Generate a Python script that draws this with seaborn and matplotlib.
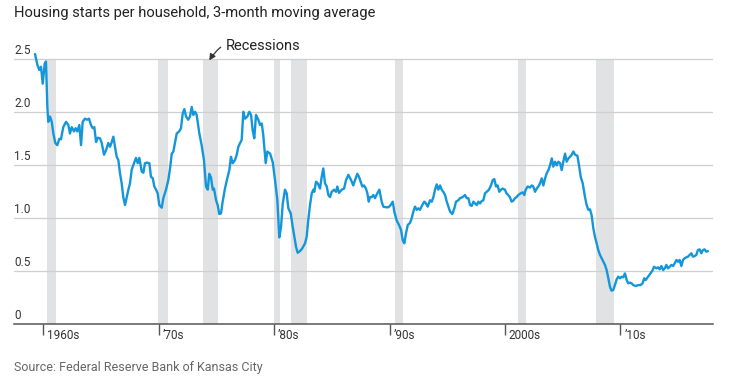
import matplotlib
matplotlib.use("Agg")
import matplotlib.pyplot as plt
import matplotlib.transforms as mtransforms
import seaborn as sns

# Housing starts per household, 3-month moving average
years = [
    1959.28, 1959.48, 1959.65, 1959.80, 1959.95, 1960.12, 1960.23, 1960.35, 1960.43, 1960.58,
    1960.73, 1960.87, 1961.04, 1961.21, 1961.39, 1961.53, 1961.73, 1961.97, 1962.17, 1962.31,
    1962.46, 1962.66, 1962.80, 1962.95, 1963.12, 1963.27, 1963.41, 1963.61, 1963.81, 1963.96,
    1964.13, 1964.28, 1964.42, 1964.57, 1964.71, 1964.91, 1965.06, 1965.26, 1965.43, 1965.63,
    1965.78, 1965.93, 1966.07, 1966.21, 1966.36, 1966.50, 1966.65, 1966.79, 1966.93, 1967.08,
    1967.23, 1967.37, 1967.51, 1967.66, 1967.86, 1968.03, 1968.18, 1968.32, 1968.53, 1968.67,
    1968.81, 1968.96, 1969.19, 1969.33, 1969.48, 1969.62, 1969.77, 1969.91, 1970.05, 1970.26,
    1970.40, 1970.63, 1970.83, 1970.98, 1971.13, 1971.27, 1971.41, 1971.56, 1971.78, 1971.93,
    1972.08, 1972.22, 1972.37, 1972.56, 1972.71, 1972.86, 1973.00, 1973.15, 1973.29, 1973.52,
    1973.72, 1973.92, 1974.10, 1974.25, 1974.38, 1974.53, 1974.68, 1974.79, 1974.97, 1975.11,
    1975.25, 1975.40, 1975.54, 1975.74, 1975.94, 1976.12, 1976.26, 1976.41, 1976.61, 1976.76,
    1976.90, 1977.05, 1977.19, 1977.33, 1977.48, 1977.68, 1977.85, 1978.00, 1978.14, 1978.28,
    1978.43, 1978.63, 1978.78, 1978.93, 1979.06, 1979.27, 1979.41, 1979.65, 1979.88, 1980.08,
    1980.28, 1980.45, 1980.60, 1980.75, 1980.94, 1981.09, 1981.23, 1981.44, 1981.61, 1981.75,
    1981.90, 1982.04, 1982.24, 1982.44, 1982.68, 1982.82, 1982.96, 1983.11, 1983.26, 1983.40,
    1983.48, 1983.63, 1983.78, 1983.98, 1984.12, 1984.26, 1984.41, 1984.56, 1984.70, 1984.84,
    1984.99, 1985.19, 1985.36, 1985.48, 1985.62, 1985.86, 1986.06, 1986.23, 1986.43, 1986.58,
    1986.73, 1986.86, 1987.01, 1987.21, 1987.36, 1987.50, 1987.64, 1987.79, 1987.96, 1988.08,
    1988.20, 1988.31, 1988.46, 1988.60, 1988.74, 1988.94, 1989.12, 1989.32, 1989.46, 1989.70,
    1989.90, 1990.10, 1990.28, 1990.42, 1990.62, 1990.82, 1991.00, 1991.14, 1991.28, 1991.43,
    1991.58, 1991.78, 1991.92, 1992.06, 1992.21, 1992.36, 1992.50, 1992.64, 1992.84, 1993.01,
    1993.16, 1993.31, 1993.51, 1993.66, 1993.80, 1993.94, 1994.09, 1994.23, 1994.38, 1994.52,
    1994.66, 1994.81, 1994.96, 1995.10, 1995.25, 1995.44, 1995.62, 1995.76, 1995.96, 1996.11,
    1996.34, 1996.54, 1996.69, 1996.83, 1996.98, 1997.12, 1997.27, 1997.41, 1997.56, 1997.70,
    1997.84, 1997.99, 1998.13, 1998.27, 1998.42, 1998.62, 1998.79, 1998.94, 1999.08, 1999.23,
    1999.37, 1999.51, 1999.66, 1999.80, 2000.00, 2000.14, 2000.28, 2000.43, 2000.58, 2000.72,
    2000.87, 2001.01, 2001.16, 2001.36, 2001.54, 2001.68, 2001.80, 2001.97, 2002.17, 2002.32,
    2002.46, 2002.61, 2002.75, 2002.90, 2003.04, 2003.19, 2003.33, 2003.48, 2003.62, 2003.77,
    2003.91, 2004.06, 2004.19, 2004.34, 2004.49, 2004.63, 2004.78, 2004.92, 2005.06, 2005.21,
    2005.35, 2005.50, 2005.64, 2005.79, 2005.93, 2006.08, 2006.28, 2006.42, 2006.57, 2006.74,
    2006.94, 2007.08, 2007.23, 2007.37, 2007.51, 2007.66, 2007.80, 2007.95, 2008.09, 2008.24,
    2008.38, 2008.52, 2008.67, 2008.81, 2008.96, 2009.10, 2009.24, 2009.39, 2009.53, 2009.68,
    2009.82, 2009.97, 2010.11, 2010.25, 2010.40, 2010.55, 2010.68, 2010.83, 2010.97, 2011.12,
    2011.35, 2011.55, 2011.75, 2011.93, 2012.07, 2012.20, 2012.41, 2012.61, 2012.78, 2012.92,
    2013.13, 2013.27, 2013.41, 2013.56, 2013.71, 2013.85, 2013.99, 2014.13, 2014.28, 2014.42,
    2014.57, 2014.71, 2014.86, 2015.00, 2015.14, 2015.29, 2015.43, 2015.57, 2015.72, 2015.86,
    2016.00, 2016.15, 2016.29, 2016.44, 2016.58, 2016.72, 2016.87, 2017.02, 2017.16, 2017.30,
    2017.45, 2017.59,
]
starts = [
    2.55, 2.45, 2.40, 2.43, 2.27, 2.46, 2.48, 2.05, 1.91, 1.96,
    1.91, 1.80, 1.71, 1.69, 1.75, 1.745, 1.86, 1.91, 1.88, 1.80,
    1.86, 1.82, 1.85, 1.82, 1.88, 1.69, 1.91, 1.94, 1.93, 1.94,
    1.88, 1.85, 1.86, 1.72, 1.76, 1.755, 1.71, 1.60, 1.64, 1.71,
    1.675, 1.72, 1.77, 1.675, 1.58, 1.55, 1.42, 1.33, 1.20, 1.125,
    1.20, 1.27, 1.33, 1.46, 1.52, 1.57, 1.52, 1.57, 1.44, 1.43,
    1.52, 1.525, 1.52, 1.39, 1.38, 1.30, 1.27, 1.235, 1.125, 1.10,
    1.19, 1.27, 1.36, 1.47, 1.61, 1.63, 1.71, 1.80, 1.82, 1.85,
    1.99, 2.03, 1.96, 1.93, 1.96, 2.05, 1.975, 2.005, 1.975, 1.80,
    1.69, 1.55, 1.30, 1.27, 1.42, 1.385, 1.27, 1.28, 1.17, 1.125,
    1.04, 1.047, 1.157, 1.28, 1.377, 1.455, 1.58, 1.52, 1.55, 1.60,
    1.675, 1.71, 1.74, 2.005, 1.94, 1.96, 2.005, 1.975, 1.83, 1.755,
    1.975, 1.93, 1.88, 1.895, 1.785, 1.52, 1.63, 1.61, 1.53, 1.36,
    1.17, 0.82, 0.92, 1.14, 1.27, 1.235, 1.095, 1.047, 0.92, 0.826,
    0.73, 0.675, 0.69, 0.717, 0.764, 0.826, 0.984, 1.125, 1.235, 1.27,
    1.25, 1.345, 1.33, 1.28, 1.39, 1.47, 1.33, 1.30, 1.22, 1.20,
    1.25, 1.27, 1.25, 1.30, 1.24, 1.27, 1.28, 1.36, 1.41, 1.38,
    1.345, 1.31, 1.36, 1.42, 1.39, 1.345, 1.30, 1.31, 1.28, 1.235,
    1.157, 1.20, 1.20, 1.22, 1.19, 1.235, 1.27, 1.157, 1.11, 1.104,
    1.104, 1.125, 1.157, 1.06, 0.98, 0.937, 0.89, 0.795, 0.764, 0.858,
    0.937, 0.958, 1.00, 1.062, 1.11, 1.08, 1.094, 1.08, 1.125, 1.157,
    1.14, 1.11, 1.17, 1.157, 1.20, 1.27, 1.32, 1.27, 1.31, 1.27,
    1.25, 1.22, 1.157, 1.11, 1.062, 1.04, 1.094, 1.157, 1.17, 1.19,
    1.20, 1.22, 1.19, 1.19, 1.125, 1.116, 1.157, 1.14, 1.125, 1.157,
    1.14, 1.163, 1.17, 1.235, 1.25, 1.27, 1.31, 1.36, 1.37, 1.30,
    1.31, 1.25, 1.27, 1.28, 1.27, 1.235, 1.22, 1.20, 1.157, 1.166,
    1.19, 1.20, 1.22, 1.235, 1.245, 1.22, 1.27, 1.30, 1.29, 1.31,
    1.30, 1.25, 1.28, 1.30, 1.33, 1.377, 1.31, 1.377, 1.425, 1.455,
    1.50, 1.565, 1.487, 1.534, 1.50, 1.534, 1.52, 1.455, 1.534, 1.61,
    1.534, 1.565, 1.58, 1.60, 1.63, 1.60, 1.59, 1.50, 1.39, 1.33,
    1.20, 1.125, 1.08, 1.085, 1.03, 0.906, 0.826, 0.764, 0.70, 0.654,
    0.623, 0.59, 0.56, 0.512, 0.434, 0.355, 0.317, 0.324, 0.37, 0.424,
    0.449, 0.434, 0.449, 0.443, 0.48, 0.418, 0.387, 0.393, 0.387, 0.37,
    0.361, 0.37, 0.37, 0.387, 0.434, 0.418, 0.449, 0.48, 0.506, 0.543,
    0.528, 0.538, 0.519, 0.55, 0.512, 0.528, 0.56, 0.528, 0.543, 0.56,
    0.55, 0.575, 0.607, 0.59, 0.607, 0.55, 0.607, 0.623, 0.632, 0.638,
    0.654, 0.67, 0.638, 0.644, 0.654, 0.70, 0.707, 0.67, 0.70, 0.707,
    0.685, 0.69,
]

# NBER recessions
recession_start = [1960.33, 1969.92, 1973.83, 1980.00, 1981.50, 1990.50, 2001.17, 2007.92]
recession_end = [1961.08, 1970.83, 1975.17, 1980.50, 1982.83, 1991.17, 2001.83, 2009.42]

decade_ticks = [1960, 1970, 1980, 1990, 2000, 2010]
decade_labels = ["1960s", "\u201970s", "\u201980s", "\u201990s", "2000s", "\u201910s"]
y_ticks = [0, 0.5, 1.0, 1.5, 2.0, 2.5]
y_labels = ["0", "0.5", "1.0", "1.5", "2.0", "2.5"]

sns.set_theme(style="white")
plt.rcParams["font.family"] = ["Roboto", "DejaVu Sans"]

W, H = 738, 392
fig = plt.figure(figsize=(W / 100, H / 100), dpi=100)
ax = fig.add_axes([14 / W, (H - 324.3) / H, (713 - 14) / W, (324.3 - 48.7) / H])

ymax = 2.6
ax.set_xlim(1957.46, 2018.03)
ax.set_ylim(0, ymax)

# recession bands
for s, e in zip(recession_start, recession_end):
    ax.axvspan(s, e, ymin=0, ymax=2.5 / ymax, color="#e1e2e4", lw=0, zorder=0)

# gridlines
for v in y_ticks[1:]:
    ax.axhline(v, color="#cfcfcf", lw=0.9, zorder=0.5)

sns.lineplot(x=years, y=starts, ax=ax, estimator=None, color="#1496da", lw=1.7, zorder=3)

# axes styling
for side in ["top", "right", "left"]:
    ax.spines[side].set_visible(False)
ax.spines["bottom"].set_color("#555555")
ax.spines["bottom"].set_linewidth(1.1)
ax.set_yticks([])
ax.set_xticks(decade_ticks)
ax.tick_params(axis="x", length=8, width=1, color="#555555", direction="out",
               labelbottom=False, bottom=True)
ax.set_xlabel("")
ax.set_ylabel("")

# y labels sit above their gridlines at the left edge
ytrans = mtransforms.blended_transform_factory(ax.transAxes, ax.transData)
yoff = mtransforms.ScaledTranslation(0, 2 / 100, fig.dpi_scale_trans)
for v, lab in zip(y_ticks, y_labels):
    ax.text(0, v, lab, transform=ytrans + yoff, ha="left", va="bottom",
            fontsize=8.5, color="#333333")

# decade labels to the right of their ticks
xtrans = mtransforms.blended_transform_factory(ax.transData, ax.transAxes)
xoff = mtransforms.ScaledTranslation(4 / 100, -5 / 100, fig.dpi_scale_trans)
for t, lab in zip(decade_ticks, decade_labels):
    ax.text(t, 0, lab, transform=xtrans + xoff, ha="left", va="top",
            fontsize=8.5, color="#333333")

# recession annotation
ax.annotate("Recessions", xy=(1974.38, 2.49), xytext=(1975.85, 2.63),
            fontsize=10.5, color="#222222", va="center", ha="left",
            annotation_clip=False,
            arrowprops=dict(arrowstyle="-|>,head_length=0.35,head_width=0.18",
                            color="#333333", lw=0.9,
                            connectionstyle="arc3,rad=0.45",
                            shrinkA=2, shrinkB=0))

fig.text(14 / W, 1 - 13 / H, "Housing starts per household, 3-month moving average",
         ha="left", va="center", fontsize=10.6, color="#222222")
fig.text(14 / W, 1 - 368 / H, "Source: Federal Reserve Bank of Kansas City",
         ha="left", va="center", fontsize=9.0, color="#666666")

fig.savefig("out.png", dpi=100)
